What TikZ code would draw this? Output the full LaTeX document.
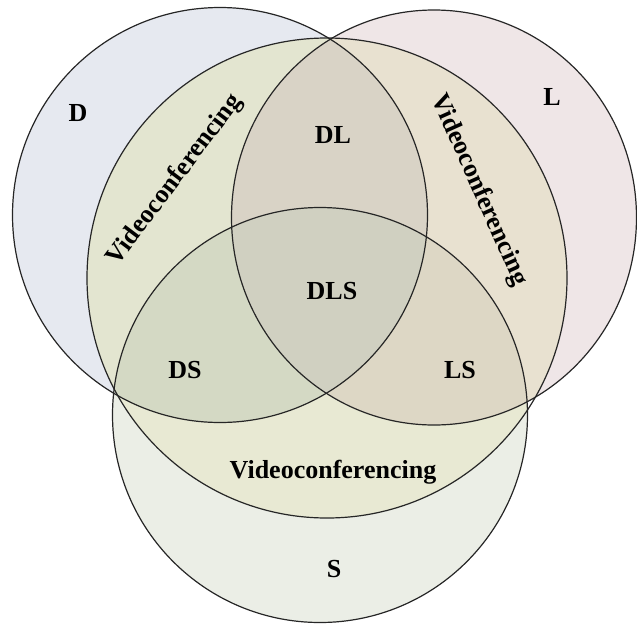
\documentclass[tikz,border=0pt]{standalone}
\usepackage{fontspec}
\setmainfont{Liberation Serif}
\definecolor{cD}{HTML}{E6E9F0}
\definecolor{cL}{HTML}{EFE6E7}
\definecolor{cS}{HTML}{EBEEE6}
\definecolor{cVD}{HTML}{E3E5D0}
\definecolor{cVL}{HTML}{E8E1D0}
\definecolor{cVS}{HTML}{E8E9D3}
\definecolor{cVDL}{HTML}{D9D3C6}
\definecolor{cVDS}{HTML}{D4D9C4}
\definecolor{cVLS}{HTML}{DDD7C5}
\definecolor{cVDLS}{HTML}{D0D0C1}
\def\pD{(220,215) circle [radius=207.5]}
\def\pL{(434,217.5) ellipse [x radius=202.5, y radius=207.5]}
\def\pS{(320,415) circle [radius=207.5]}
\def\pV{(327,278) circle [radius=240]}
\tikzset{
  ring/.style={draw=black!85, line width=1.2pt},
  lbl/.style={font=\fontsize{26}{30}\selectfont\bfseries, inner sep=0pt, text=black}
}
\begin{document}
\begin{tikzpicture}[x=1pt, y=-1pt]
\useasboundingbox (0,0) rectangle (637,627);
\fill[cD] \pD;
\fill[cL] \pL;
\fill[cS] \pS;
\begin{scope}
  \clip \pV;
  \fill[cVD] \pD;
  \fill[cVL] \pL;
  \fill[cVS] \pS;
  \begin{scope}
    \clip \pL;
    \fill[cVLS] \pS;
  \end{scope}
  \begin{scope}
    \clip \pD;
    \fill[cVDL] \pL;
    \fill[cVDS] \pS;
    \begin{scope}
      \clip \pL;
      \fill[cVDLS] \pS;
    \end{scope}
  \end{scope}
\end{scope}
\draw[ring] \pD;
\draw[ring] \pL;
\draw[ring] \pS;
\draw[ring] \pV;
\node[lbl] (tD) at (78,113) {D};
\node[lbl] (tL) at (552,97) {L};
\node[lbl] (tS) at (334,569) {S};
\node[lbl] (tDL) at (333,135) {DL};
\node[lbl] (tDLS) at (332,291) {DLS};
\node[lbl] (tDS) at (185,370) {DS};
\node[lbl] (tLS) at (460,370) {LS};
\node[lbl] (tV1) at (333,472) {Videoconferencing};
\node[lbl, rotate=53] (tV2) at (175,180) {Videoconferencing};
\node[lbl, rotate=-66] (tV3) at (479,190) {Videoconferencing};
\end{tikzpicture}
\end{document}
